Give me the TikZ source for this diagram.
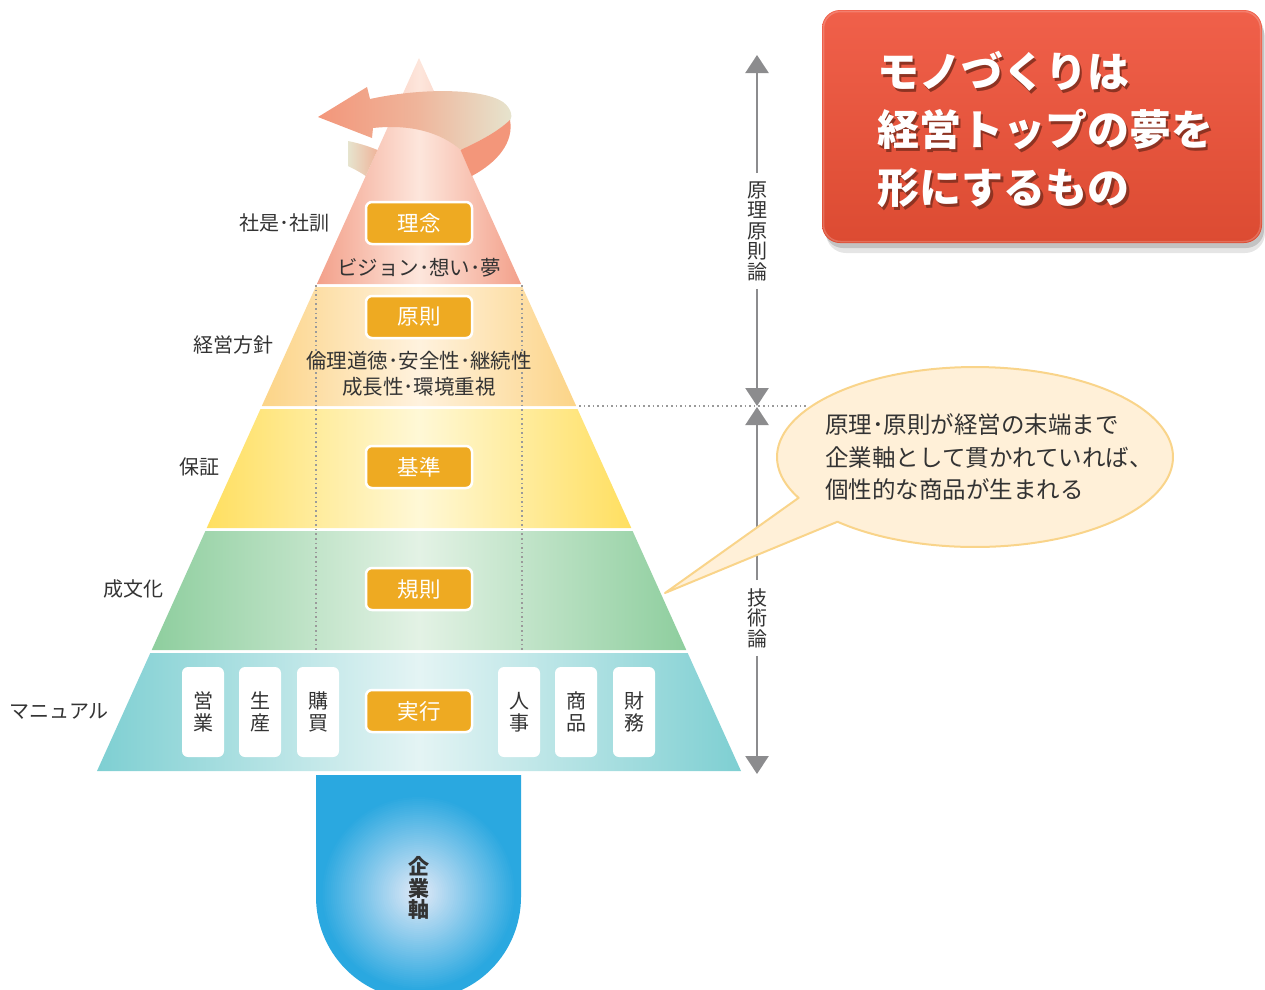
\documentclass[tikz,border=0pt]{standalone}
\usepackage{fontspec}
\setmainfont{Noto Sans CJK JP}
\usetikzlibrary{arrows.meta}
\definecolor{txt}{HTML}{333333}
\definecolor{boxor}{HTML}{EEAA22}
\definecolor{axgray}{HTML}{8C8C8E}
\definecolor{dotgray}{HTML}{9A9A9A}
\definecolor{l1e}{HTML}{F3A08A}
\definecolor{l1c}{HTML}{FDE6DC}
\definecolor{l2e}{HTML}{FCD487}
\definecolor{l2c}{HTML}{FFF2DE}
\definecolor{l3e}{HTML}{FFDF60}
\definecolor{l3c}{HTML}{FFF8D6}
\definecolor{l4e}{HTML}{8ECE9E}
\definecolor{l4c}{HTML}{E3F2E5}
\definecolor{l5e}{HTML}{7ECFD2}
\definecolor{l5c}{HTML}{E4F4F4}
\definecolor{arsal}{HTML}{F3967A}
\definecolor{armid}{HTML}{EFB49A}
\definecolor{arbei}{HTML}{E6E4CE}
\definecolor{redtop}{HTML}{F0604A}
\definecolor{redbot}{HTML}{DC4B32}
\definecolor{titleshade}{HTML}{8E3322}
\definecolor{callfill}{HTML}{FFF0D8}
\definecolor{callline}{HTML}{F9D48A}
\definecolor{stemin}{HTML}{E4EAF7}
\definecolor{stemout}{HTML}{2AA8E0}
\newcommand{\shtext}[1]{\leavevmode\rlap{\kern2.5pt\raisebox{-3pt}{\textcolor{titleshade}{#1}}}#1}
\tikzset{
  obox/.style={fill=boxor, draw=white, line width=2.5pt, rounded corners=6pt,
    minimum width=106pt, minimum height=42pt, text=white, inner sep=0pt,
    font=\fontsize{21.5}{24}\selectfont},
  wbox/.style={fill=white, rounded corners=6pt, minimum width=42pt, minimum height=90pt,
    inner sep=0pt, align=center, text=txt, font=\fontsize{20}{22}\selectfont},
  lbl/.style={anchor=east, text=txt, inner sep=0pt, font=\fontsize{20}{24}\selectfont},
  ltxt/.style={text=txt, inner sep=0pt, align=center, font=\fontsize{20.5}{26}\selectfont},
  vlbl/.style={text=txt, inner sep=8pt, align=center, font=\fontsize{20}{20.5}\selectfont},
  axline/.style={draw=axgray, line width=2.5pt, -{Triangle[width=23pt,length=18pt]}},
  dotline/.style={draw=dotgray, line width=1.6pt, dash pattern=on 1.6pt off 3pt},
}
\begin{document}
\begin{tikzpicture}[x=1pt,y=-1pt]
\useasboundingbox (0,0) rectangle (1265,989);

% ---- pyramid layers
\shade[left color=l1e, right color=l1e, middle color=l1c] (419,58) -- (521.1,284) -- (316.9,284) -- cycle;
\shade[left color=l2e, right color=l2e, middle color=l2c] (315.6,287) -- (522.4,287) -- (576.2,406) -- (261.8,406) -- cycle;
\shade[left color=l3e, right color=l3e, middle color=l3c] (260.5,409) -- (577.5,409) -- (631.3,528) -- (206.7,528) -- cycle;
\shade[left color=l4e, right color=l4e, middle color=l4c] (205.4,531) -- (632.6,531) -- (686.3,650) -- (151.7,650) -- cycle;
\shade[left color=l5e, right color=l5e, middle color=l5c] (150.3,653) -- (687.7,653) -- (741,771) -- (97,771) -- cycle;

% ---- rotating arrow around the apex
\shade[left color=arbei, right color=armid] (348,141) .. controls (358,143) and (368,146) .. (377.5,150) -- (365.7,176) .. controls (360,172) and (354,169) .. (348,166) -- cycle;
\shade[left color=arsal, right color=arbei, middle color=armid]
  (318,117) -- (367,87) -- (370,99) .. controls (420,88) and (482,88) .. (503,102)
  .. controls (511,108) and (513,116) .. (510,121)
  .. controls (495,134) and (475,143) .. (461,150)
  .. controls (440,132) and (410,124) .. (373,128) -- (372,138) -- cycle;
\fill[arsal] (510,120) .. controls (514,142) and (498,162) .. (471.8,176) -- (460.5,150)
  .. controls (475,143) and (495,134) .. (510,120) -- cycle;

% ---- dotted guides
\draw[dotline] (316,285) -- (316,652);
\draw[dotline] (522,285) -- (522,652);
\draw[dotline] (579,406) -- (808,406);

% ---- orange boxes and texts
\node[obox] (b1) at (419,223) {理念};
\node[obox] (b2) at (419,317) {原則};
\node[obox] (b3) at (419,467) {基準};
\node[obox] (b4) at (419,589) {規則};
\node[obox] (b5) at (419,711) {実行};
\node[ltxt] (v1) at (419,268) {ビジョン･想い･夢};
\node[ltxt] (v2) at (419,374) {倫理道徳･安全性･継続性\\成長性･環境重視};

% ---- white department boxes
\node[wbox] (w1) at (203,712) {営\\業};
\node[wbox] (w2) at (260,712) {生\\産};
\node[wbox] (w3) at (318,712) {購\\買};
\node[wbox] (w4) at (519,712) {人\\事};
\node[wbox] (w5) at (576,712) {商\\品};
\node[wbox] (w6) at (634,712) {財\\務};

% ---- left labels
\node[lbl] (lab1) at (330,223) {社是･社訓};
\node[lbl] (lab2) at (274,345) {経営方針};
\node[lbl] (lab3) at (220,467) {保証};
\node[lbl] (lab4) at (164,589) {成文化};
\node[lbl] (lab5) at (109,711) {マニュアル};

% ---- stem (manual radial gradient)
\begin{scope}
  \clip (316,775) -- (521,775) -- (521,897)
    -- plot[domain=180:360, samples=61] ({418.5-102.5*cos(\x)},{897-102.5*sin(\x)}) -- cycle;
  \fill[stemout] (310,770) rectangle (530,1005);
  \foreach \r in {100,98,...,2} {
    \pgfmathsetmacro\pc{min(100,\r*1.02)}
    \fill[stemout!\pc!stemin] (418.5,893) circle (\r);
  }
\end{scope}
\node[text=txt, align=center, inner sep=0pt, font=\bfseries\fontsize{21}{21.5}\selectfont] (stem) at (419,888) {企\\業\\軸};

% ---- right axis
\coordinate (topA) at (757,55);
\coordinate (midA) at (757,406);
\coordinate (midB) at (757,407);
\coordinate (botA) at (757,774);
\node[vlbl] (ax1) at (757,231) {原\\理\\原\\則\\論};
\node[vlbl] (ax2) at (757,618) {技\\術\\論};
\draw[axline] (ax1.north) -- (topA);
\draw[axline] (ax1.south) -- (midA);
\draw[axline] (ax2.north) -- (midB);
\draw[axline] (ax2.south) -- (botA);

% ---- callout
\draw[fill=callfill, draw=callline, line width=2pt, line join=round]
  (665,593) -- plot[domain=153:494, samples=160] ({975+198*cos(\x)},{457+90*sin(\x)}) -- cycle;
\node[anchor=west, align=left, text=txt, inner sep=0pt, font=\fontsize{23.5}{32.5}\selectfont] (calltext) at (825,457)
  {原理･原則が経営の末端まで\\企業軸として貫かれていれば、\\個性的な商品が生まれる};

% ---- red title box
\fill[black, opacity=0.10, rounded corners=20pt] (826,18) rectangle (1265,253);
\fill[black, opacity=0.15, rounded corners=18pt] (825,15) rectangle (1264,248);
\shade[top color=redtop, bottom color=redbot, rounded corners=18pt] (822,10) rectangle (1262,243);
\draw[white, opacity=0.2, line width=1.5pt, rounded corners=17pt] (823.5,11.5) rectangle (1260.5,241.5);
\node[anchor=west, align=left, text=white, inner sep=0pt, font=\bfseries\fontsize{42}{58}\selectfont] (title) at (877,131)
  {\shtext{モノづくりは}\\\shtext{経営トップの夢を}\\\shtext{形にするもの}};
\end{tikzpicture}
\end{document}
